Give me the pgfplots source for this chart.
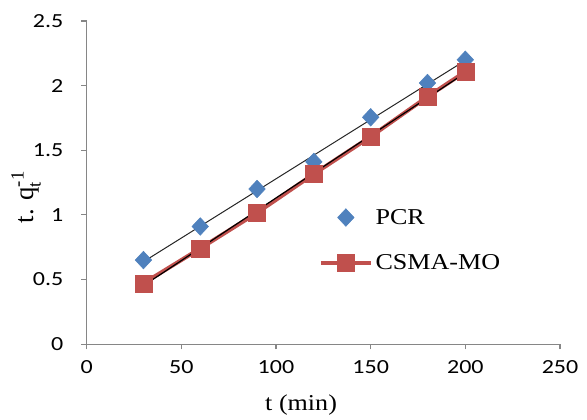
\documentclass[border=0pt]{standalone}
\usepackage{pgfplots}
\pgfplotsset{compat=1.18}
\usepackage{fontspec}
\setmainfont{Liberation Serif}
\newfontfamily\lserif[FakeStretch=1.15]{Liberation Serif}
\newfontfamily\yserif{Liberation Serif}
\newfontfamily\tickfont[FakeStretch=1.2]{Carlito}
\definecolor{pcrblue}{HTML}{4F81BD}
\definecolor{csmared}{HTML}{C0504D}
\definecolor{axgray}{HTML}{868686}
\begin{document}
\begin{tikzpicture}
\begin{axis}[
  scale only axis,
  width=354.96pt, height=242.25pt,
  xmin=0, xmax=250, ymin=0, ymax=2.5,
  xtick={0,50,100,150,200,250},
  ytick={0,0.5,1,1.5,2,2.5},
  yticklabels={0,0.5,1,1.5,2,2.5},
  xticklabels={0,50,100,150,200,250},
  axis x line=bottom, axis y line=left,
  axis line style={-, axgray, line width=0.8pt},
  tick style={axgray, line width=0.8pt},
  tick align=outside,
  major tick length=4pt,
  tick label style={font=\tickfont\fontsize{15}{18}\selectfont, black},
  xticklabel style={yshift=-5pt},
  yticklabel style={xshift=-10pt},
  clip=false,
  xlabel={t (min)},
  xlabel style={font=\lserif\fontsize{17}{20}\selectfont, at={(rel axis cs:0.453,-0.189)}, anchor=center},
  ylabel={t. q$_{\mbox{\yserif\fontsize{14}{14}\selectfont t}}^{\mbox{\yserif\fontsize{14}{14}\selectfont -1}}$},
  ylabel style={font=\yserif\fontsize{20}{22}\selectfont, at={(rel axis cs:-0.128,0.455)}, anchor=center},
  legend image code/.code={\draw[mark repeat=2,mark phase=2,#1] plot coordinates {(0pt,0pt) (18.75pt,0pt) (37.5pt,0pt)};},
  legend style={draw=none, fill=none, at={(rel axis cs:0.49,0.322)}, anchor=west,
    font=\lserif\fontsize{17}{20}\selectfont, row sep=17pt, inner sep=0pt},
  legend cell align=left,
]
\addplot[only marks, mark=diamond*, mark size=6.6pt, mark options={fill=pcrblue, draw=pcrblue, xscale=1.25, line width=0.4pt}]
  coordinates {(30,0.65) (60,0.91) (90,1.2) (120,1.41) (150,1.755) (180,2.02) (200,2.2)};
\addlegendentry{PCR}
\addplot[csmared, line width=3pt, mark=square*, mark size=6.4pt, mark options={fill=csmared, draw=csmared, line width=0.4pt}]
  coordinates {(30,0.47) (60,0.74) (90,1.016) (120,1.316) (150,1.605) (180,1.914) (200,2.108)};
\addlegendentry{CSMA-MO}
\addplot[black!85, line width=0.75pt, forget plot] coordinates {(30,0.637) (200,2.195)};
\addplot[black, line width=0.9pt, forget plot] coordinates {(30,0.452) (200,2.099)};
\path (rel axis cs:-0.183,-0.223) rectangle (rel axis cs:1.057,1.065);
\end{axis}
\end{tikzpicture}
\end{document}
